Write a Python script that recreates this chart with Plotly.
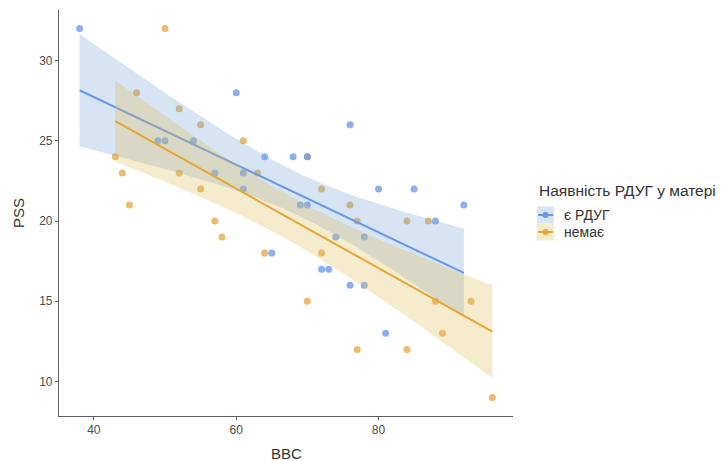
import numpy as np
import plotly.graph_objects as go

# ---- data ----
groups = ["є РДУГ", "немає"]
bbc_yes = [38, 49, 50, 54, 57, 60, 61, 61, 64, 65, 68, 70, 69, 70, 72, 73, 74, 76, 76, 78, 78, 80, 81, 85, 88, 92]
pss_yes = [32, 25, 25, 25, 23, 28, 23, 22, 24, 18, 24, 24, 21, 21, 17, 17, 19, 26, 16, 19, 16, 22, 13, 22, 20, 21]
bbc_no = [43, 44, 45, 46, 50, 52, 52, 55, 55, 57, 58, 61, 63, 64, 70, 70, 72, 72, 76, 77, 77, 84, 84, 87, 88, 89, 93, 96]
pss_no = [24, 23, 21, 28, 32, 27, 23, 26, 22, 20, 19, 25, 23, 18, 24, 15, 22, 18, 21, 20, 12, 20, 12, 20, 15, 13, 15, 9]
x_ticks = [40, 60, 80]
y_ticks = [10, 15, 20, 25, 30]
legend_title = "Наявність РДУГ у матері"

# ---- styles ----
W, H = 724, 461
L, R, T, B = 59, 211, 10, 45
pt_colors = ["rgba(100,149,237,0.75)", "rgba(232,163,58,0.75)"]
line_colors = ["rgb(104,152,234)", "rgb(232,166,56)"]
band_colors = ["rgba(120,165,220,0.30)", "rgba(222,188,88,0.30)"]
band_solid = ["rgb(214,228,244)", "rgb(245,235,205)"]
FONT = "Liberation Sans, Arial, sans-serif"


def t_quantile(p, df):
    from math import gamma, sqrt, pi
    grid = np.linspace(0, 12, 120001)
    c = gamma((df + 1) / 2) / (sqrt(df * pi) * gamma(df / 2))
    pdf = c * (1 + grid ** 2 / df) ** (-(df + 1) / 2)
    cdf = 0.5 + np.concatenate([[0], np.cumsum((pdf[1:] + pdf[:-1]) / 2 * np.diff(grid))])
    return float(np.interp(p, cdf, grid))


def smooth(xs, ys):
    x = np.asarray(xs, float)
    y = np.asarray(ys, float)
    n = len(x)
    xm = x.mean()
    sxx = ((x - xm) ** 2).sum()
    b = ((x - xm) * (y - y.mean())).sum() / sxx
    a = y.mean() - b * xm
    res = y - (a + b * x)
    s = np.sqrt((res ** 2).sum() / (n - 2))
    xg = np.linspace(x.min(), x.max(), 80)
    fit = a + b * xg
    se = s * np.sqrt(1 / n + (xg - xm) ** 2 / sxx)
    t = t_quantile(0.975, n - 2)
    return xg, fit, fit - t * se, fit + t * se


fig = go.Figure()
data = [(bbc_yes, pss_yes), (bbc_no, pss_no)]

# points first (ggplot draws them under the smooth layer); orange below blue
for i in [1, 0]:
    xs, ys = data[i]
    fig.add_trace(go.Scatter(x=xs, y=ys, mode="markers",
                             marker=dict(size=7, color=pt_colors[i], line=dict(width=0)),
                             showlegend=False, hoverinfo="x+y"))

# smooth: ribbon then line, per group
for i, (xs, ys) in enumerate(data):
    xg, fit, lo, hi = smooth(xs, ys)
    fig.add_trace(go.Scatter(x=np.concatenate([xg, xg[::-1]]), y=np.concatenate([hi, lo[::-1]]),
                             mode="lines", line=dict(width=0), fill="toself",
                             fillcolor=band_colors[i], showlegend=False, hoverinfo="skip"))
    fig.add_trace(go.Scatter(x=xg, y=fit, mode="lines",
                             line=dict(color=line_colors[i], width=2),
                             showlegend=False, hoverinfo="skip"))

axis_common = dict(showgrid=False, zeroline=False, showline=True, linecolor="#5e5e5e", linewidth=1.1,
                   ticks="outside", ticklen=3, tickwidth=1.1, tickcolor="#5e5e5e",
                   tickfont=dict(family=FONT, size=12, color="#4d4d4d"))

fig.update_layout(
    width=W, height=H,
    margin=dict(l=L, r=R, t=T, b=B),
    paper_bgcolor="white", plot_bgcolor="white",
    showlegend=False,
    xaxis=dict(range=[35.1, 98.9], tickvals=x_ticks, **axis_common),
    yaxis=dict(range=[7.85, 33.15], tickvals=y_ticks, **axis_common),
)


def px(xp):
    return (xp - L) / (W - L - R)


def py(yp):
    return (H - B - yp) / (H - T - B)


ann = [
    dict(text="BBC", x=px(286), y=py(453), xref="paper", yref="paper", showarrow=False,
         font=dict(family=FONT, size=15, color="#333333"), xanchor="center", yanchor="middle"),
    dict(text="PSS", x=px(18), y=py(213), xref="paper", yref="paper", showarrow=False, textangle=-90,
         font=dict(family=FONT, size=15, color="#333333"), xanchor="center", yanchor="middle"),
    dict(text=legend_title, x=px(537), y=py(190), xref="paper", yref="paper", showarrow=False,
         font=dict(family=FONT, size=15.5, color="#333333"), xanchor="left", yanchor="middle"),
]
shapes = []
key_y = [215, 232]
for i, g in enumerate(groups):
    yc = key_y[i]
    shapes.append(dict(type="rect", xref="paper", yref="paper", x0=px(537), x1=px(554),
                       y0=py(yc - 8.5), y1=py(yc + 8.5), fillcolor=band_solid[i], line=dict(width=0), layer="above"))
    shapes.append(dict(type="line", xref="paper", yref="paper", x0=px(538), x1=px(553),
                       y0=py(yc), y1=py(yc), line=dict(color=line_colors[i], width=2), layer="above"))
    shapes.append(dict(type="circle", xref="paper", yref="paper", x0=px(542.5), x1=px(548.5),
                       y0=py(yc - 3), y1=py(yc + 3), fillcolor=line_colors[i], line=dict(width=0), layer="above"))
    ann.append(dict(text=g, x=px(562), y=py(yc), xref="paper", yref="paper", showarrow=False,
                    font=dict(family=FONT, size=14, color="#333333"), xanchor="left", yanchor="middle"))

fig.update_layout(annotations=ann, shapes=shapes)
fig.write_html("out.html", config={"displayModeBar": False},
               post_script="document.body.style.margin='0px';")
